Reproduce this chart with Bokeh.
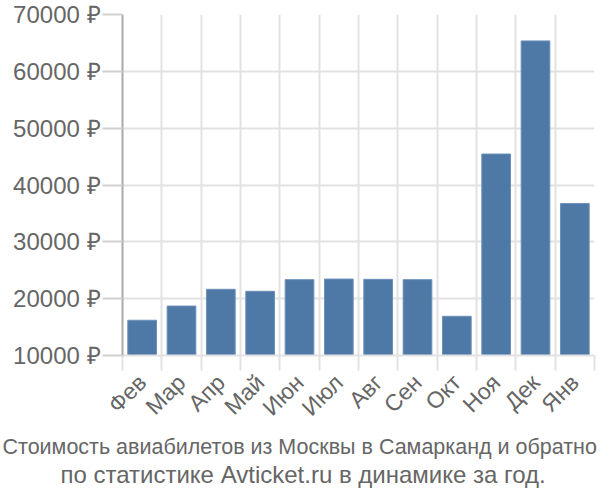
import math
from bokeh.plotting import figure
from bokeh.models import FixedTicker, Range1d, Title, ColumnDataSource
from bokeh.embed import file_html
from bokeh.resources import INLINE

months = ["Фев", "Мар", "Апр", "Май", "Июн", "Июл", "Авг", "Сен", "Окт", "Ноя", "Дек", "Янв"]
prices = [16200, 18700, 21650, 21300, 23350, 23450, 23400, 23350, 16900, 45450, 65350, 36750]
y_ticks = [10000, 20000, 30000, 40000, 50000, 60000, 70000]
title_lines = ["Стоимость авиабилетов из Москвы в Самарканд и обратно",
               "по статистике Avticket.ru в динамике за год."]

FONT = "Liberation Sans"
GRID = "#e2e2e2"
TEXT = "#666666"

idx = list(range(len(months)))
src = ColumnDataSource(dict(x=idx, top=prices, bottom=[10000] * len(prices), m=months))

p = figure(width=600, height=500, output_backend="svg", toolbar_location=None,
           x_range=Range1d(-0.5, len(months) - 0.5), y_range=Range1d(10000, 70000),
           min_border_left=122, min_border_right=6, min_border_top=14, min_border_bottom=145)
p.outline_line_color = None
p.background_fill_color = "white"

p.vbar(x="x", top="top", bottom="bottom", width=0.73, source=src,
       fill_color="#4e79a7", line_color="#6d91ba", line_width=1)

# x axis
boundaries = [i - 0.5 for i in range(len(months) + 1)]
p.xaxis.ticker = FixedTicker(ticks=idx, minor_ticks=boundaries)
p.xaxis.major_label_overrides = {i: m for i, m in zip(idx, months)}
p.xaxis.major_label_orientation = math.pi / 4
p.xaxis.major_tick_line_color = None
p.xaxis.minor_tick_line_color = GRID
p.xaxis.minor_tick_line_width = 2
p.xaxis.minor_tick_out = 15
p.xaxis.minor_tick_in = 0
p.xaxis.axis_line_color = GRID
p.xaxis.axis_line_width = 2
p.xaxis.major_label_text_font = FONT
p.xaxis.major_label_text_font_size = "23px"
p.xaxis.major_label_text_color = TEXT
p.xaxis.major_label_standoff = 8

p.xgrid.ticker = FixedTicker(ticks=boundaries)
p.xgrid.grid_line_color = GRID
p.xgrid.grid_line_width = 2

# y axis
p.yaxis.ticker = FixedTicker(ticks=y_ticks)
p.yaxis.major_label_overrides = {t: f"{t} ₽" for t in y_ticks}
p.yaxis.major_tick_line_color = "#d0d0d0"
p.yaxis.major_tick_line_width = 2
p.yaxis.major_tick_out = 20
p.yaxis.major_tick_in = 0
p.yaxis.minor_tick_line_color = None
p.yaxis.axis_line_color = "#aaaaaa"
p.yaxis.axis_line_width = 2
p.yaxis.major_label_text_font = FONT
p.yaxis.major_label_text_font_size = "24px"
p.yaxis.major_label_text_color = TEXT
p.yaxis.major_label_standoff = 2

p.ygrid.ticker = FixedTicker(ticks=y_ticks)
p.ygrid.grid_line_color = GRID
p.ygrid.grid_line_width = 2

# caption: two title lines below the axis, shifted left to be centred on the canvas
offsets = [-120, -62]
sizes = ["21.5px", "24px"]
for line, off, sz in zip(title_lines, offsets, sizes):
    p.add_layout(Title(text=line, align="left", offset=off, standoff=0,
                       text_font=FONT, text_font_size=sz, text_color=TEXT,
                       text_font_style="normal"), "below")

open("out.html", "w").write(file_html(p, INLINE))
